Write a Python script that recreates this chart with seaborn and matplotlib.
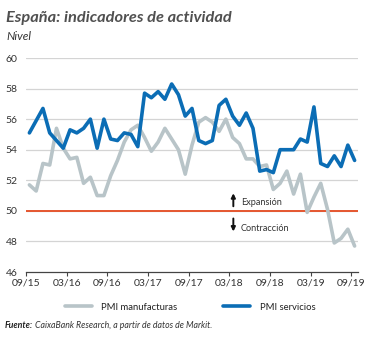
import matplotlib
matplotlib.use("Agg")
import matplotlib.pyplot as plt
import seaborn as sns
import pandas as pd
import numpy as np

months = pd.date_range("2015-09-01", "2019-09-01", freq="MS")
pmi_manufacturas = [51.7, 51.3, 53.1, 53.0, 55.4, 54.1, 53.4, 53.5, 51.8, 52.2, 51.0, 51.0,
                    52.3, 53.3, 54.5, 55.3, 55.6, 54.8, 53.9, 54.5, 55.4, 54.7, 54.0, 52.4,
                    54.3, 55.8, 56.1, 55.8, 55.2, 56.0, 54.8, 54.4, 53.4, 53.4, 52.9, 53.0,
                    51.4, 51.8, 52.6, 51.1, 52.4, 49.9, 50.9, 51.8, 50.1, 47.9, 48.2, 48.8, 47.7]
pmi_servicios = [55.1, 55.9, 56.7, 55.1, 54.6, 54.1, 55.3, 55.1, 55.4, 56.0, 54.1, 56.0,
                 54.7, 54.6, 55.1, 55.0, 54.2, 57.7, 57.4, 57.8, 57.3, 58.3, 57.6, 56.2,
                 56.7, 54.6, 54.4, 54.6, 56.9, 57.3, 56.2, 55.6, 56.4, 55.4, 52.6, 52.7,
                 52.5, 54.0, 54.0, 54.0, 54.7, 54.5, 56.8, 53.1, 52.9, 53.6, 52.9, 54.3, 53.3]
tick_labels = ["09/15", "03/16", "09/16", "03/17", "09/17", "03/18", "09/18", "03/19", "09/19"]
yticks = [46, 48, 50, 52, 54, 56, 58, 60]
series_names = ["PMI manufacturas", "PMI servicios"]

n = len(months)
idx = np.arange(n) + 0.5
df = pd.DataFrame({
    "x": np.concatenate([idx, idx]),
    "valor": pmi_manufacturas + pmi_servicios,
    "serie": [series_names[0]] * n + [series_names[1]] * n,
})

sns.set_theme(style="white")
plt.rcParams["font.family"] = ["Lato", "DejaVu Sans"]

fig = plt.figure(figsize=(3.75, 3.38), dpi=100)
ax = fig.add_axes([26/375, 1-272/338, (358-26)/375, (272-58)/338])

for y in yticks[1:]:
    ax.axhline(y, color="#d4d4d4", lw=0.9, zorder=0)
ax.axhline(50, color="#e5562f", lw=1.4, zorder=1)

sns.lineplot(data=df, x="x", y="valor", hue="serie", ax=ax,
             palette={series_names[0]: "#b8c4c8", series_names[1]: "#0b6db5"},
             linewidth=2.6, zorder=3)

ax.set_xlim(0, 49)
ax.set_ylim(46, 60)
ax.set_xticks(np.arange(0, 49, 6))
ax.set_xticklabels(tick_labels)
ax.set_yticks(yticks)
ax.set_xlabel("")
ax.set_ylabel("")
for s in ["top", "right", "left"]:
    ax.spines[s].set_visible(False)
ax.spines["bottom"].set_color("#444444")
ax.spines["bottom"].set_linewidth(0.9)
ax.tick_params(axis="x", length=3, width=0.8, color="#444444", labelsize=7.5,
               labelcolor="#333333", pad=2, direction="out", bottom=True)
ax.tick_params(axis="y", length=0, labelsize=7.5, labelcolor="#333333", pad=6)

arrow_kw = dict(arrowstyle="-|>", color="#111111", lw=1.4, mutation_scale=6,
                shrinkA=0, shrinkB=0)
ax.annotate("", xy=(30.6, 51.15), xytext=(30.6, 50.3), arrowprops=arrow_kw)
ax.text(31.75, 50.55, "Expansión", fontsize=6.6, ha="left", va="center", color="#333333")
ax.annotate("", xy=(30.6, 48.65), xytext=(30.6, 49.5), arrowprops=arrow_kw)
ax.text(31.75, 48.87, "Contracción", fontsize=6.6, ha="left", va="center", color="#333333")

sns.move_legend(ax, "center", bbox_to_anchor=(190/375, 1-307/338),
                bbox_transform=fig.transFigure, ncol=2, frameon=False, title=None,
                fontsize=6.8, handlelength=2.9, handletextpad=1.0, columnspacing=4.8)
for t in ax.get_legend().get_texts():
    t.set_color("#222222")

fig.text(6/375, 1-18/338, "España: indicadores de actividad", fontsize=11.8,
         fontweight="bold", fontstyle="italic", color="#505050", va="center", ha="left")
fig.text(6/375, 1-37/338, "Nivel", fontsize=8.5, fontstyle="italic", color="#333333",
         va="center", ha="left")
t1 = fig.text(5/375, 1-326/338, "Fuente:", fontsize=6.3, fontweight="bold",
              fontstyle="italic", color="#222222", va="center", ha="left")
fig.canvas.draw()
bb = t1.get_window_extent()
fig.text((bb.x1 + 1.5)/375, 1-326/338, "CaixaBank Research, a partir de datos de Markit.",
         fontsize=6.3, fontstyle="italic", color="#333333", va="center", ha="left")

fig.savefig("out.png", dpi=100)
